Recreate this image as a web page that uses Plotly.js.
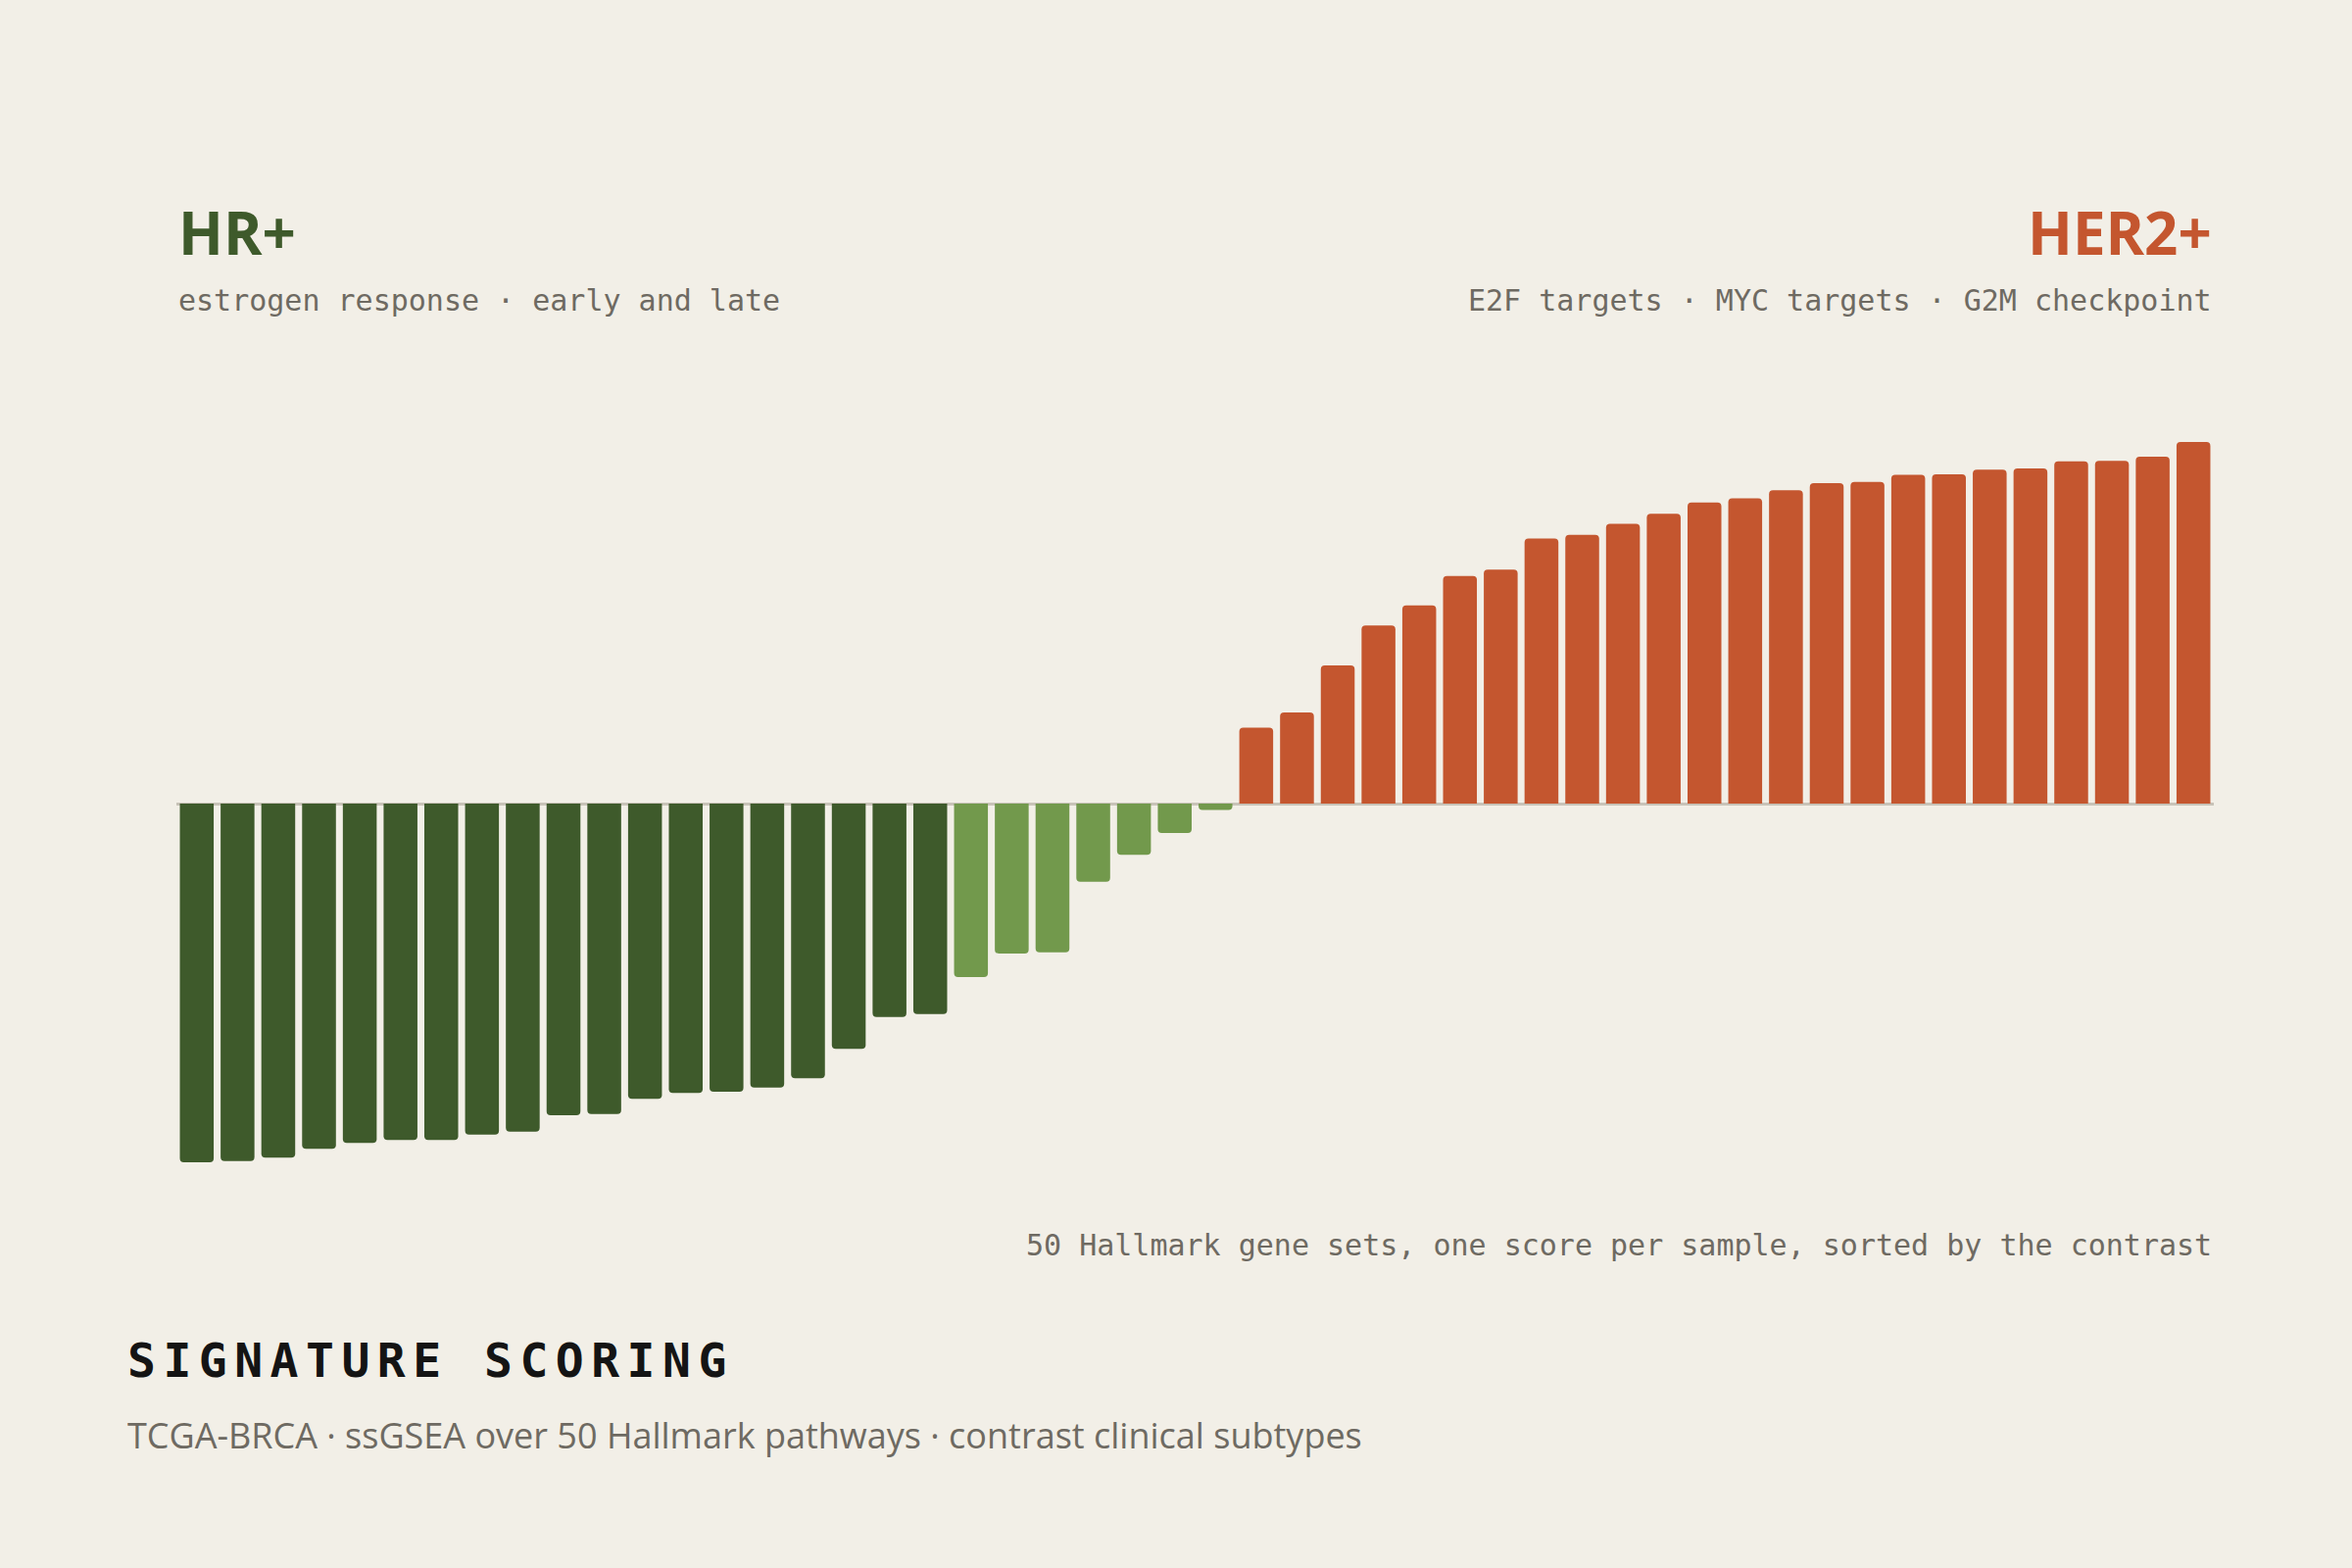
<!DOCTYPE html>
<html>
<head>
<meta charset="utf-8">
<script src="https://cdn.plot.ly/plotly-3.0.1.min.js"></script>
<style>
  html, body { margin: 0; padding: 0; background: #f2efe7; }
  #chart { width: 2400px; height: 1600px; }
</style>
</head>
<body>
<div id="chart"></div>
<script>
// contrast score per Hallmark gene set (HER2+ minus HR+), sorted
const scores = [
    -0.610, -0.608, -0.602, -0.587, -0.577, -0.572, -0.572, -0.563, -0.558, -0.530,
    -0.528, -0.502, -0.492, -0.490, -0.483, -0.467, -0.417, -0.363, -0.358,
    -0.295, -0.255, -0.253, -0.133, -0.087, -0.050, -0.011,
    0.129, 0.155, 0.235, 0.303, 0.337, 0.387, 0.398, 0.451, 0.457, 0.476,
    0.493, 0.512, 0.519, 0.533, 0.545, 0.547, 0.559, 0.560, 0.568, 0.570,
    0.582, 0.583, 0.590, 0.615
]
// which side each gene set leans to
const side = [
    'hr', 'hr', 'hr', 'hr', 'hr', 'hr', 'hr', 'hr', 'hr', 'hr',
    'hr', 'hr', 'hr', 'hr', 'hr', 'hr', 'hr', 'hr', 'hr',
    'hrWeak', 'hrWeak', 'hrWeak', 'hrWeak', 'hrWeak', 'hrWeak', 'hrWeak',
    'her2', 'her2', 'her2', 'her2', 'her2', 'her2', 'her2', 'her2', 'her2', 'her2',
    'her2', 'her2', 'her2', 'her2', 'her2', 'her2', 'her2', 'her2', 'her2', 'her2',
    'her2', 'her2', 'her2', 'her2'
]
const geneSets = scores.map((v, i) => i + 1)

const palette = {
    hr: '#3e5a2b',
    hrWeak: '#72994c',
    her2: '#c4562f'
}
const grey = '#6e6a62'
const mono = '"DejaVu Sans Mono", "Liberation Mono", monospace'
const sans = '"Open Sans", "Noto Sans", sans-serif'

const data = [{
    x: geneSets,
    y: scores,
    type: 'bar',
    marker: {
        color: side.map(s => palette[s]),
        cornerradius: 4,
        line: { width: 0 }
    },
    hoverinfo: 'skip'
}]

const layout = {
    width: 2400,
    height: 1600,
    paper_bgcolor: '#f2efe7',
    plot_bgcolor: '#f2efe7',
    margin: { l: 180, r: 141, t: 400, b: 360 },
    bargap: 0.17,
    showlegend: false,
    xaxis: {
        range: [0.5, 50.5],
        visible: false,
        fixedrange: true
    },
    yaxis: {
        range: [-0.7, 0.7],
        showgrid: false,
        showticklabels: false,
        zeroline: true,
        zerolinecolor: '#c8c3b8',
        zerolinewidth: 3,
        fixedrange: true
    },
    annotations: [
        {
            text: 'HR+', xref: 'paper', yref: 'paper', x: 0, y: 1.194,
            xanchor: 'left', yanchor: 'middle', showarrow: false,
            font: { family: sans, size: 60, weight: 700, color: palette.hr }
        },
        {
            text: 'estrogen response · early and late', xref: 'paper', yref: 'paper', x: 0, y: 1.111,
            xanchor: 'left', yanchor: 'middle', showarrow: false,
            font: { family: mono, size: 30, color: grey }
        },
        {
            text: 'HER2+', xref: 'paper', yref: 'paper', x: 1, y: 1.194,
            xanchor: 'right', yanchor: 'middle', showarrow: false,
            font: { family: sans, size: 60, weight: 700, color: palette.her2 }
        },
        {
            text: 'E2F targets · MYC targets · G2M checkpoint', xref: 'paper', yref: 'paper', x: 1, y: 1.111,
            xanchor: 'right', yanchor: 'middle', showarrow: false,
            font: { family: mono, size: 30, color: grey }
        },
        {
            text: '50 Hallmark gene sets, one score per sample, sorted by the contrast',
            xref: 'paper', yref: 'paper', x: 1, y: -0.036,
            xanchor: 'right', yanchor: 'middle', showarrow: false,
            font: { family: mono, size: 30, color: grey }
        },
        {
            text: 'SIGNATURE SCORING', xref: 'paper', yref: 'paper', x: -0.025, y: -0.176,
            xanchor: 'left', yanchor: 'middle', align: 'left', showarrow: false,
            font: { family: mono, size: 48, weight: 700, color: '#141414' }
        },
        {
            text: 'TCGA-BRCA · ssGSEA over 50 Hallmark pathways · contrast clinical subtypes',
            xref: 'paper', yref: 'paper', x: -0.025, y: -0.267,
            xanchor: 'left', yanchor: 'middle', align: 'left', showarrow: false,
            font: { family: sans, size: 36, color: grey }
        }
    ]
}

const config = { staticPlot: true }

Plotly.newPlot('chart', data, layout, config).then(() => {
    // spaced-out headline
    const notes = document.querySelectorAll('.annotation-text')
    notes.forEach(t => {
        if (t.textContent === 'SIGNATURE SCORING') {
            t.style.letterSpacing = '7.5px'
            t.setAttribute('text-anchor', 'start')
        }
    })
})
</script>
</body>
</html>
